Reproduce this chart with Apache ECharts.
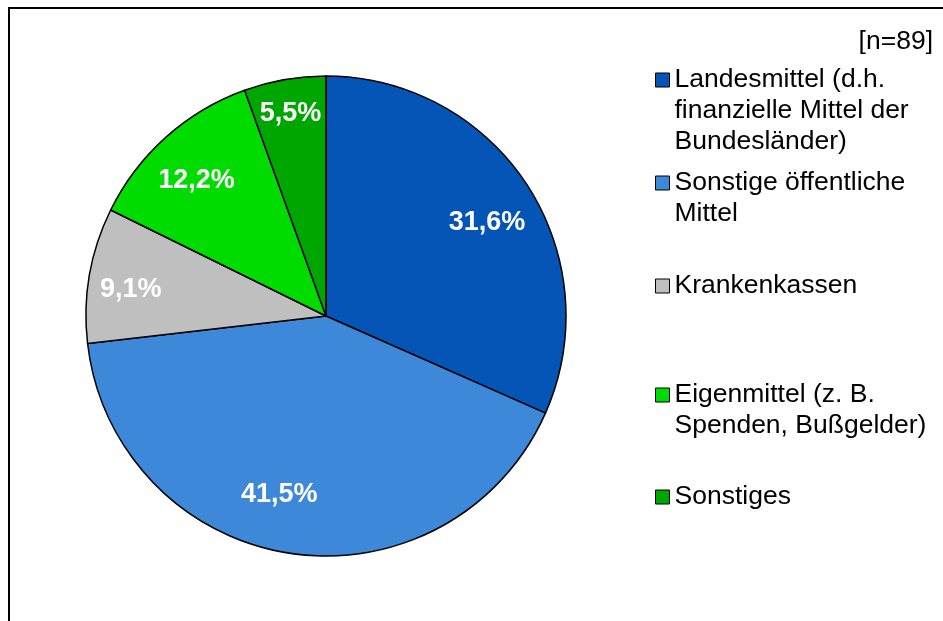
<!DOCTYPE html>
<html>
<head>
<meta charset="utf-8">
<script src="https://cdn.jsdelivr.net/npm/echarts@6/dist/echarts.min.js"></script>
<style>
  html, body { margin: 0; padding: 0; background: #fff; }
  #chart { width: 943px; height: 621px; }
</style>
</head>
<body>
<div id="chart"></div>
<script>
// shares in percent, clockwise from 12 o'clock
const categories = [
  'Landesmittel (d.h. finanzielle Mittel der Bundesländer)',
  'Sonstige öffentliche Mittel',
  'Krankenkassen',
  'Eigenmittel (z. B. Spenden, Bußgelder)',
  'Sonstiges'
];
const legendLabels = [
  'Landesmittel (d.h.\nfinanzielle Mittel der\nBundesländer)',
  'Sonstige öffentliche\nMittel',
  'Krankenkassen',
  'Eigenmittel (z. B.\nSpenden, Bußgelder)',
  'Sonstiges'
];
const shares = [31.6, 41.5, 9.1, 12.2, 5.5];
const sampleNote = '[n=89]';

const sliceColors = ['#0455B5', '#3D88D8', '#BFBFBF', '#00DC00', '#00A600'];
const fontFamily = '"Liberation Sans", Arial, sans-serif';

const pieCenter = [326, 316];
const pieRadius = 240;

// label placement tweaks (Excel puts labels further out than the ring middle)
const labelDist = [186, 185, 197, 187, 206];
const labelTurn = [3, 6, -2, -2, 0];

// legend: one block per entry, gaps are uneven in the original
const lineH = 31;
const firstLineY = [80, 183, 286, 395, 497];

const chart = echarts.init(document.getElementById('chart'));

// legend text is centred on the icon, so pad with empty lines on top
// to keep the icon next to the first line
const legends = categories.map((name, i) => {
  const n = legendLabels[i].split('\n').length;
  const text = '\n'.repeat(n - 1) + legendLabels[i];
  return {
    data: [name],
    left: 655,
    top: firstLineY[i] - (2 * n - 1) * lineH / 2,
    orient: 'vertical',
    padding: 0,
    icon: 'rect',
    itemWidth: 14,
    itemHeight: 14,
    selectedMode: false,
    itemStyle: { borderColor: '#000', borderWidth: 1 },
    formatter: () => text,
    textStyle: {
      fontFamily: fontFamily,
      fontSize: 26.5,
      color: '#000',
      lineHeight: lineH
    }
  };
});

const option = {
  animation: false,
  backgroundColor: '#fff',
  title: {
    text: sampleNote,
    right: 10,
    top: 28,
    padding: 0,
    textStyle: { fontFamily: fontFamily, fontSize: 26.5, fontWeight: 'normal', color: '#000' }
  },
  legend: legends,
  graphic: [
    {
      type: 'rect',
      shape: { x: 9, y: 8, width: 1000, height: 1000 },
      style: { fill: 'none', stroke: '#000', lineWidth: 2 },
      silent: true
    }
  ],
  series: [
    {
      type: 'pie',
      center: pieCenter,
      radius: pieRadius,
      startAngle: 90,
      clockwise: true,
      avoidLabelOverlap: false,
      emphasis: { scale: false },
      itemStyle: { borderColor: '#000', borderWidth: 1.5 },
      label: {
        show: true,
        position: 'inside',
        formatter: (p) => p.value.toFixed(1).replace('.', ',') + '%',
        color: '#fff',
        fontFamily: fontFamily,
        fontSize: 27,
        fontWeight: 'bold'
      },
      labelLine: { show: false },
      labelLayout: function (params) {
        const r = params.labelRect;
        const mx = r.x + r.width / 2 - pieCenter[0];
        const my = pieCenter[1] - (r.y + r.height / 2);
        const ang = Math.atan2(mx, my) + labelTurn[params.dataIndex] * Math.PI / 180;
        const d = labelDist[params.dataIndex];
        return {
          x: pieCenter[0] + d * Math.sin(ang),
          y: pieCenter[1] - d * Math.cos(ang),
          align: 'center',
          verticalAlign: 'middle'
        };
      },
      data: categories.map((name, i) => ({
        name: name,
        value: shares[i],
        itemStyle: { color: sliceColors[i] }
      }))
    }
  ]
};

chart.setOption(option);
</script>
</body>
</html>
